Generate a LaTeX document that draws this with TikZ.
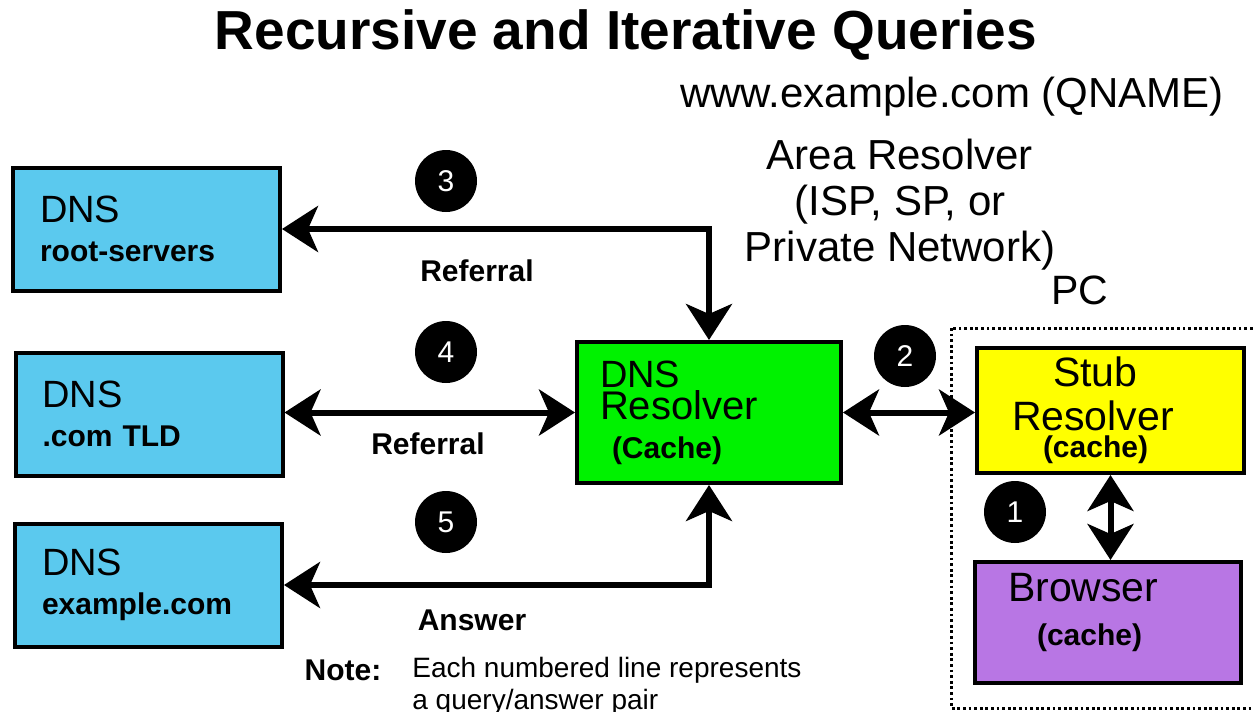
\documentclass[tikz,border=0pt]{standalone}
\usepackage{fontspec}
\setmainfont{Liberation Sans}
\usetikzlibrary{arrows.meta,positioning,calc}
\definecolor{Dnsblue}{HTML}{5BC9EE}
\definecolor{Resgreen}{HTML}{00F200}
\definecolor{Stubyellow}{HTML}{FFFF00}
\definecolor{Browpurple}{HTML}{B876E4}
\newcommand\setfs[2]{\fontsize{#1}{#2}\selectfont}

\begin{document}
\begin{tikzpicture}
[x=.5pt,y=-.5pt,>={Stealth[length=18pt,width=23pt,inset=5pt]},
box/.style={draw,line width=2pt,align=left,inner ysep=0pt},
dnsbox/.style={box,fill=Dnsblue,minimum width=133.5pt,minimum height=61.5pt,
    inner xsep=13.5pt,text width=106.5pt,font=\setfs{15}{19.5}},
num/.style={circle,fill=black,text=white,minimum size=31pt,inner sep=0pt,
    font=\setfs{15}{15}},
link/.style={line width=3pt,<->},
lbl/.style={font=\setfs{15}{15}\bfseries},
head/.style={align=center,font=\setfs{21}{23}}]
\useasboundingbox (0,0) rectangle (1254,712);

%% title and names
\node[font=\setfs{27.5}{30}\bfseries] (title) at (626,35) {Recursive and Iterative Queries};
\node[head] (qname) at (952,97) {www.example.com (QNAME)};
\node[head] (area) at (900,205) {Area Resolver\\(ISP, SP, or\\Private Network)};
\node[head,font=\setfs{20.5}{22}] (pc) at (1080,290) {PC};

%% name servers
\node[dnsbox] (root) at (146.5,229) {\setfs{19}{19}DNS\\\setfs{15}{19.5}\bfseries root-servers};
\node[dnsbox] (tld) at (149,414) {\setfs{19}{19}DNS\\\setfs{15}{19.5}\bfseries .com TLD};
\node[dnsbox] (auth) at (148.5,585) {\setfs{19}{19}DNS\\\setfs{15}{19.5}\bfseries example.com};

%% resolvers
\node[box,fill=Resgreen,minimum width=132pt,minimum height=70.5pt,inner xsep=11.5pt,
    text width=109pt,font=\setfs{15}{19.5}] (res) at (709,412.5)
    {\setfs{19}{19}DNS\\[-1pt]\setfs{20}{17}Resolver\\\setfs{15}{19.5}\bfseries\hspace*{6pt}(Cache)};

\draw[line width=1.5pt,dash pattern=on 1.4pt off 1.4pt] (951,328) rectangle (1265,708);
\node[box,fill=Stubyellow,minimum width=133.5pt,minimum height=62.5pt,inner xsep=17.5pt,
    text width=98.5pt,font=\setfs{15}{22}] (stub) at (1110.5,410.5)
    {\setfs{20.5}{20}\hspace*{20.5pt}Stub\\\setfs{20.5}{22}Resolver\\[-8.5pt]\setfs{15}{12.5}\bfseries\hspace*{15.5pt}(cache)};
\node[box,fill=Browpurple,minimum width=133pt,minimum height=60.5pt,inner xsep=16.5pt,
    text width=100pt,font=\setfs{15}{22}] (brow) at (1108,622.5)
    {\setfs{20.5}{20}Browser\\\setfs{15}{22}\bfseries\hspace*{14.5pt}(cache)\rule[-13pt]{0pt}{13pt}};

%% query/answer pairs
\draw[link] (root.east) -- (root.east -| res.north) -- (res.north);
\draw[link] (res.west -| tld.east) -- (res.west);
\draw[link] (res.south) -- (res.south |- auth.east) -- (auth.east);
\draw[link] (res.east) -- (res.east -| stub.west);
\draw[link] (stub.south) -- (stub.south |- brow.north);

\node[num] (n1) at (1015,512) {1};
\node[num] (n2) at (905,356) {2};
\node[num] (n3) at (446,181) {3};
\node[num] (n4) at (446,352) {4};
\node[num] (n5) at (446,522) {5};

\node[lbl] (ref3) at (477,271) {Referral};
\node[lbl] (ref4) at (428,444) {Referral};
\node[lbl] (ans) at (472,620) {Answer};

%% note
\node[lbl] (note) at (343,670) {Note:};
\node[anchor=north west,align=left,inner sep=0pt,font=\setfs{14}{16}] (notetext) at (412,657)
    {Each numbered line represents\\a query/answer pair};
\end{tikzpicture}
\end{document}
